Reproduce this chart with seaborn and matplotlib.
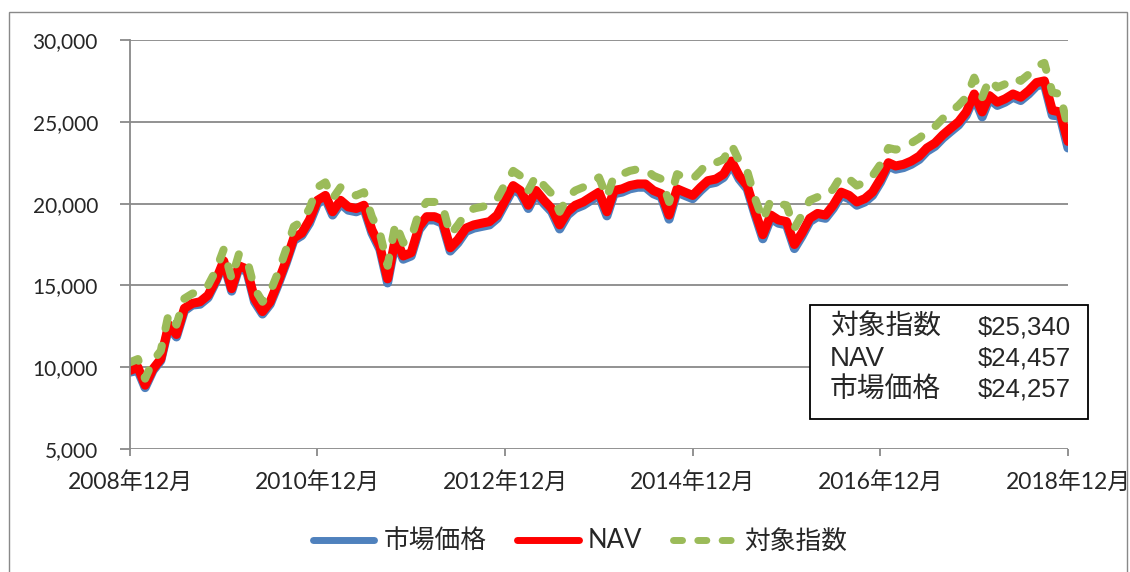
"""
Growth of 10,000 chart: market price vs NAV vs index
"""

import numpy as np
import pandas as pd
import matplotlib
matplotlib.use('Agg')
import matplotlib.pyplot as plt
from matplotlib.patches import Rectangle
import seaborn as sns

# month-end axis, Dec 2008 .. Dec 2018
months = pd.date_range('2008-12-31', '2018-12-31', freq='ME')

market = [
    9700, 9800, 8750, 9800, 10400, 12450, 11850, 13450, 13800, 13850, 14250, 15200,
    16350, 14650, 16050, 15850, 14000, 13250, 13850, 15050, 16350, 17750, 18050, 18800,
    20000, 20300, 19300, 20000, 19600, 19500, 19700, 18200, 17200, 15150, 17700, 16600,
    16800, 18400, 19000, 19000, 18800, 17100, 17600, 18300, 18500, 18600, 18700, 19100,
    20000, 20900, 20600, 19700, 20600, 20000, 19500, 18450, 19300, 19700, 19900, 20200,
    20500, 19250, 20600, 20700, 20900, 21000, 21000, 20600, 20400, 19050, 20700, 20500,
    20300, 20800, 21200, 21300, 21600, 22400, 21500, 20900, 19300, 17850, 19100, 18800,
    18700, 17250, 18000, 18900, 19200, 19100, 19700, 20500, 20300, 19900, 20100, 20500,
    21300, 22300, 22100, 22200, 22400, 22700, 23200, 23500, 24000, 24400, 24800, 25400,
    26500, 25300, 26400, 26000, 26200, 26500, 26300, 26700, 27200, 27300, 25400, 25350,
    23400,
]

nav = [
    9800, 10000, 8900, 9900, 10500, 12600, 12000, 13600, 13900, 14000, 14400, 15300,
    16500, 14800, 16200, 16000, 14200, 13400, 14000, 15200, 16500, 17900, 18200, 19000,
    20200, 20500, 19500, 20200, 19800, 19700, 19900, 18400, 17400, 15400, 17900, 16800,
    17000, 18600, 19200, 19200, 19000, 17300, 17800, 18500, 18700, 18800, 18900, 19300,
    20200, 21100, 20800, 19900, 20800, 20200, 19700, 18700, 19500, 19900, 20100, 20400,
    20700, 19500, 20800, 20900, 21100, 21200, 21200, 20800, 20600, 19300, 20900, 20700,
    20500, 21000, 21400, 21500, 21800, 22600, 21700, 21100, 19500, 18100, 19300, 19000,
    18900, 17500, 18200, 19100, 19400, 19300, 19900, 20700, 20500, 20100, 20300, 20700,
    21500, 22500, 22300, 22400, 22600, 22900, 23400, 23700, 24200, 24600, 25000, 25600,
    26700, 25600, 26600, 26200, 26400, 26700, 26500, 26900, 27400, 27500, 25700, 25600,
    23800,
]

index_vals = [
    10300, 10500, 9300, 10400, 11000, 13300, 12600, 14200, 14500, 14600, 15000, 15900,
    17200, 15400, 16900, 16600, 14800, 14000, 14600, 15800, 17200, 18600, 18900, 19700,
    21000, 21300, 20300, 21000, 20600, 20500, 20700, 19200, 18200, 16200, 18800, 17600,
    17900, 19500, 20100, 20100, 19900, 18100, 18700, 19400, 19700, 19800, 19900, 20300,
    21200, 22000, 21700, 20800, 21700, 21100, 20600, 19500, 20400, 20800, 21000, 21300,
    21600, 20400, 21700, 21800, 22000, 22100, 22100, 21700, 21500, 20100, 21800, 21600,
    21500, 22000, 22500, 22500, 22700, 23600, 22600, 22000, 20300, 19000, 20200, 20000,
    19900, 18500, 19300, 20200, 20400, 20400, 20900, 21700, 21500, 21100, 21300, 21700,
    22400, 23400, 23300, 23400, 23700, 24000, 24400, 24700, 25200, 25600, 26000, 26500,
    27700, 26500, 27600, 27100, 27300, 27700, 27500, 27900, 28400, 28600, 26800, 26700,
    24600,
]

series_names = ['市場価格', 'NAV', '対象指数']
tick_dates = ['2008-12-31', '2010-12-31', '2012-12-31', '2014-12-31', '2016-12-31', '2018-12-31']
tick_labels = ['2008年12月', '2010年12月', '2012年12月', '2014年12月', '2016年12月', '2018年12月']
y_ticks = [5000, 10000, 15000, 20000, 25000, 30000]
summary_names = ['対象指数', 'NAV', '市場価格']
summary_values = ['$25,340', '$24,457', '$24,257']

df = pd.DataFrame({
    'date': np.tile(months, 3),
    'value': market + nav + index_vals,
    'series': np.repeat(series_names, len(months)),
})

sns.set_style('white')
plt.rcParams['font.family'] = ['Lato', 'Noto Sans CJK JP']
grid_color = '#898989'

fig = plt.figure(figsize=(11.3, 5.72), dpi=100)
ax = fig.add_axes([0.1150, 0.2150, 0.8301, 0.7151])

palette = {'市場価格': '#4F81BD', 'NAV': '#FF0000', '対象指数': '#9BBB59'}
dashes = {'市場価格': '', 'NAV': '', '対象指数': (1.3, 2.2)}
sns.lineplot(data=df, x='date', y='value', hue='series', style='series',
             hue_order=series_names, style_order=series_names,
             palette=palette, dashes=dashes, linewidth=6.5,
             solid_capstyle='round', dash_capstyle='round', ax=ax)
# index line slightly thinner than the fund lines
ax.get_lines()[2].set_linewidth(5.8)

ax.set_xlim(pd.Timestamp('2008-12-31'), pd.Timestamp('2018-12-31'))
ax.set_ylim(5000, 30000)
ax.set_yticks(y_ticks)
ax.set_yticklabels([f'{v:,}' for v in y_ticks])
ax.set_xticks(pd.to_datetime(tick_dates))
ax.set_xticklabels(tick_labels)
ax.set_xlabel('')
ax.set_ylabel('')

ax.grid(True, axis='y', color=grid_color, linewidth=1.3)
ax.grid(False, axis='x')
ax.set_axisbelow(True)
for side in ['top', 'right', 'bottom']:
    ax.spines[side].set_visible(False)
ax.spines['left'].set_color(grid_color)
ax.spines['left'].set_linewidth(1.3)
ax.tick_params(axis='y', length=7, width=1.3, color=grid_color, pad=16,
               labelsize=15, left=True)
ax.tick_params(axis='x', length=5, width=1.3, color=grid_color, pad=11,
               labelsize=16.5, bottom=True)

handles, labels = ax.get_legend_handles_labels()
leg = ax.legend(handles, labels, ncol=3, loc='center', frameon=False,
                bbox_to_anchor=(0.513, 1 - 541 / 572), bbox_transform=fig.transFigure,
                fontsize=18.5, handlelength=2.4, handletextpad=0.35, columnspacing=1.2)
for h in leg.get_lines():
    h.set_linewidth(5)

# summary box
fig.add_artist(Rectangle((810 / 1130, 1 - 419 / 572), 278 / 1130, 114 / 572,
                         transform=fig.transFigure, facecolor='white',
                         edgecolor='black', linewidth=1.3))
box_family = ['Liberation Sans', 'Noto Sans CJK JP']
for i, (name, val) in enumerate(zip(summary_names, summary_values)):
    y = 1 - (327 + 31.5 * i) / 572
    fig.text(830 / 1130, y, name, ha='left', va='center', fontsize=20, family=box_family)
    fig.text(1071 / 1130, y, val, ha='right', va='center', fontsize=18.5, family=box_family)

# outer chart border
fig.add_artist(Rectangle((9 / 1130, -0.1), 1118 / 1130, 1.1 - 12 / 572,
                         transform=fig.transFigure, facecolor='none',
                         edgecolor=grid_color, linewidth=1.0))

fig.savefig('out.png', dpi=100)
